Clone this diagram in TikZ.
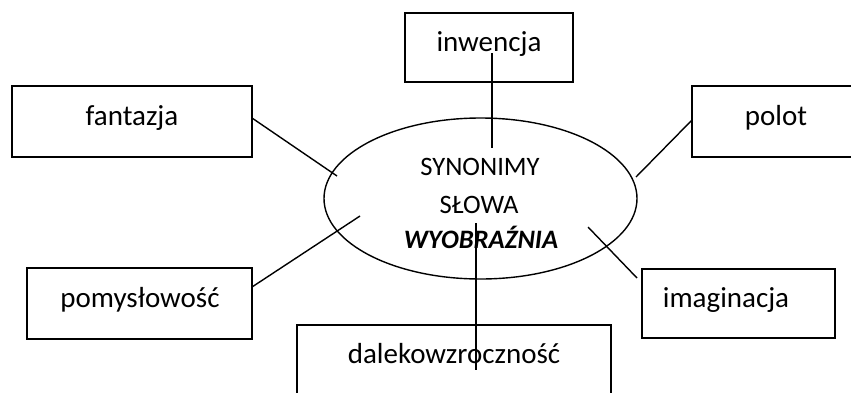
\documentclass[tikz,border=0pt]{standalone}
\usepackage{fontspec}
\setmainfont{Carlito}
\usetikzlibrary{shapes.geometric}
\begin{document}
\begin{tikzpicture}[x=0.5pt,y=-0.5pt,line width=0.7pt,
  wordbox/.style={draw,rectangle,inner sep=0pt},
  oval/.style={draw,ellipse,inner sep=0pt,minimum width=156.5pt,minimum height=80.5pt},
  lbl/.style={anchor=base,inner sep=0pt,font=\fontsize{14.5}{17}\selectfont},
  inlbl/.style={anchor=base,inner sep=0pt,font=\fontsize{13.3}{16}\selectfont},
  conn/.style={line width=0.7pt}]
\clip (0,0) rectangle (851,392);
% boxes
\node[wordbox,minimum width=84pt,minimum height=34.5pt] (binw) at (489,47.5) {};
\node[wordbox,minimum width=120pt,minimum height=35.5pt] (bfan) at (132,121.5) {};
\node[wordbox,minimum width=84pt,minimum height=35.5pt] (bpol) at (776,121.5) {};
\node[wordbox,minimum width=112.5pt,minimum height=35.5pt] (bpom) at (139.5,303.5) {};
\node[wordbox,minimum width=96.5pt,minimum height=34.5pt] (bima) at (738.5,303.5) {};
\node[wordbox,minimum width=157pt,minimum height=35.5pt] (bdal) at (454,360.5) {};
\node[oval] (ov) at (480.5,198.5) {};
% labels
\node[lbl] (tinw) at (489,51) {inwencja};
\node[lbl] (tfan) at (132,125) {fantazja};
\node[lbl] (tpol) at (776,125) {polot};
\node[lbl] (tpom) at (140,307) {pomysłowość};
\node[lbl] (tima) at (726,307) {imaginacja};
\node[lbl] (tdal) at (454,363) {dalekowzroczność};
\node[inlbl] (t1) at (480,175) {SYNONIMY};
\node[inlbl] (t2) at (479,213) {SŁOWA};
\node[inlbl,font=\fontsize{13.3}{16}\selectfont\bfseries\itshape] (t3) at (481,248) {WYOBRAŹNIA};
% connector ends
\coordinate (a1) at (492,53);   \coordinate (a2) at (492,148);
\coordinate (b1) at (252,118);  \coordinate (b2) at (337,176);
\coordinate (c1) at (692,120);  \coordinate (c2) at (636,177);
\coordinate (d1) at (252,287);  \coordinate (d2) at (360,216);
\coordinate (e1) at (637,278);  \coordinate (e2) at (588,227);
\coordinate (f1) at (476,223);  \coordinate (f2) at (476,370);
\draw[conn] (a1) -- (a2);
\draw[conn] (b1) -- (b2);
\draw[conn] (c1) -- (c2);
\draw[conn] (d1) -- (d2);
\draw[conn] (e1) -- (e2);
\draw[conn] (f1) -- (f2);
\end{tikzpicture}
\end{document}
